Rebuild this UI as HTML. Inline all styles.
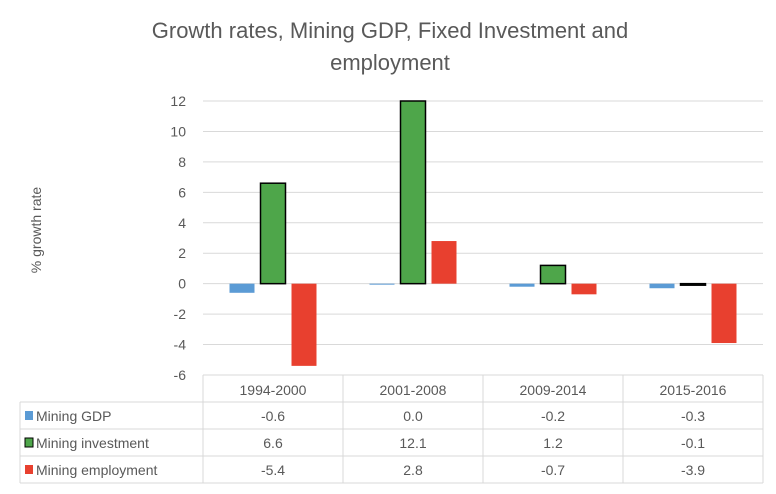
<!DOCTYPE html>
<html><head><meta charset="utf-8"><style>
body{margin:0;background:#fff;font-family:"Liberation Sans",sans-serif;}
svg text{font-family:"Liberation Sans",sans-serif;fill:#595959;}
</style></head><body>
<svg id="c" width="776" height="489"></svg>
<script>
const categories=["1994-2000","2001-2008","2009-2014","2015-2016"];
const seriesNames=["Mining GDP","Mining investment","Mining employment"];
const gdp=[-0.6,0.0,-0.2,-0.3];
const investment=[6.6,12.1,1.2,-0.1];
const employment=[-5.4,2.8,-0.7,-3.9];
const yTicks=[-6,-4,-2,0,2,4,6,8,10,12];
const colors=["#5b9bd5","#4ea64a","#e8402f"];
const series=[gdp,investment,employment];
const NS="http://www.w3.org/2000/svg";
const svg=document.getElementById('c');
function mk(t,a,txt){const e=document.createElementNS(NS,t);for(const k in a)e.setAttribute(k,a[k]);if(txt!=null)e.textContent=txt;svg.appendChild(e);return e;}
const x0=203,colW=140,yMin=-6,yMax=12,yTop=101,yBot=375;
const y=v=>yTop+(yMax-Math.min(yMax,Math.max(yMin,v)))*(yBot-yTop)/(yMax-yMin);
let t=mk('text',{x:390,y:38,'text-anchor':'middle','font-size':22},'Growth rates, Mining GDP, Fixed Investment and');

t=mk('text',{x:390,y:70,'text-anchor':'middle','font-size':22},'employment');

t=mk('text',{x:41,y:230,'text-anchor':'middle','font-size':14,transform:'rotate(-90 41 230)'},'% growth rate');

yTicks.forEach(v=>{
 if(v>yMin){const g=mk('line',{x1:x0,x2:x0+colW*4,y1:y(v),y2:y(v),stroke:'#d9d9d9','stroke-width':1});
 }
 const l=mk('text',{x:186,y:y(v)+5,'text-anchor':'end','font-size':14},String(v));
 
});
const bw=25,gap=6;
categories.forEach((c,i)=>{
 const cx=x0+colW*i+colW/2;
 series.forEach((s,j)=>{
  const v=s[i];const bx=cx-bw*1.5-gap+j*(bw+gap);
  const top=Math.min(y(v),y(0)),h=Math.max(Math.abs(y(v)-y(0)),1);
  const r=mk('rect',{x:bx,y:top,width:bw,height:h,fill:colors[j]});
  if(j===1){r.setAttribute('stroke','#000');r.setAttribute('stroke-width','1.5');}
  
 });
});
// table
const rows=[375,402,429,456,483];
const tl=20,tr=x0+colW*4;
for(let k=0;k<rows.length;k++){const ln=mk('line',{x1:k===0?x0:tl,x2:tr,y1:rows[k],y2:rows[k],stroke:'#d9d9d9'});}
for(let i=0;i<=4;i++){const ln=mk('line',{x1:x0+colW*i,x2:x0+colW*i,y1:375,y2:483,stroke:'#d9d9d9'});}
const vl=mk('line',{x1:tl,x2:tl,y1:402,y2:483,stroke:'#d9d9d9'});
categories.forEach((c,i)=>{const e=mk('text',{x:x0+colW*i+colW/2,y:395,'text-anchor':'middle','font-size':14},c);});
series.forEach((s,j)=>{
 const ry=rows[j+1];
 const k=mk('rect',{x:25,y:ry+9,width:8,height:9,fill:colors[j],stroke:j===1?'#000':'none'});
 
 const n=mk('text',{x:36,y:ry+19,'font-size':14},seriesNames[j]);
 
 s.forEach((v,i)=>{const e=mk('text',{x:x0+colW*i+colW/2,y:ry+19,'text-anchor':'middle','font-size':14},v.toFixed(1));});
});
</script>
</body></html>
